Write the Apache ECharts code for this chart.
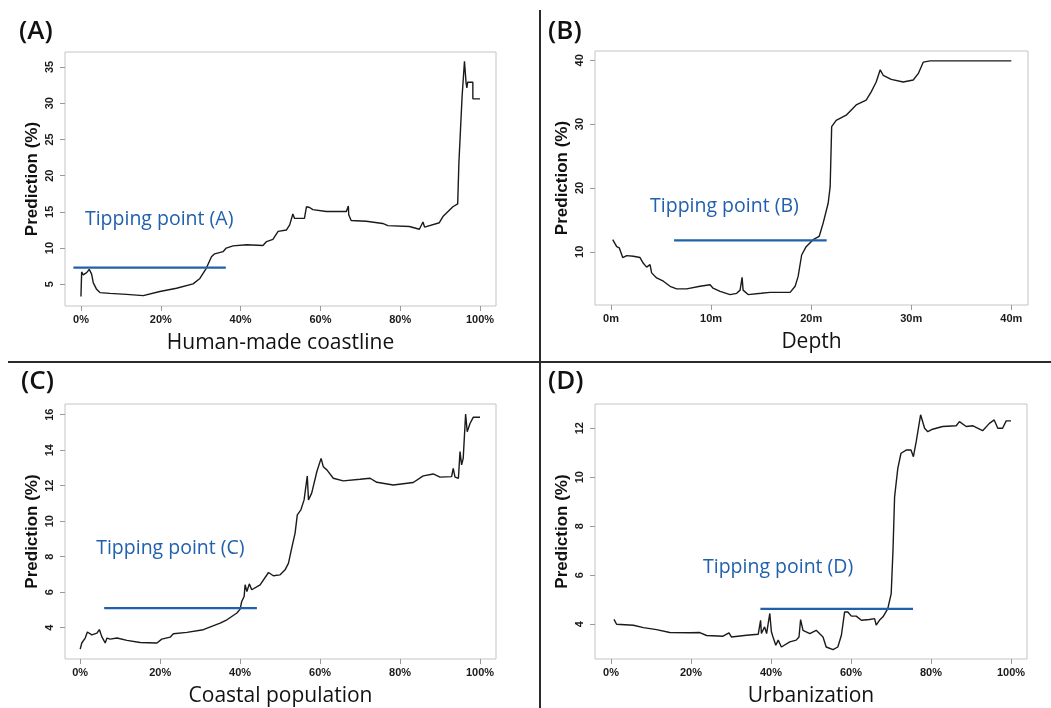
<!DOCTYPE html>
<html>
<head>
<meta charset="utf-8">
<script src="https://cdn.jsdelivr.net/npm/echarts@6.0.0/dist/echarts.min.js"></script>
<style>
html,body{margin:0;padding:0;background:#fff;}
#chart{width:1051px;height:708px;}
</style>
</head>
<body>
<div id="chart"></div>
<script>
// ---------- DATA ----------
// Panel A: Human-made coastline (%) vs Prediction (%)
const xA = [0,0.17,0.58,1.42,2.08,2.67,3.09,3.92,4.75,7.26,11.43,15.6,19.77,23.94,28.1,29.8,31.4,32.7,33.5,35.6,36.4,38.1,41.5,45.6,46.5,48.1,49.4,51.5,52.3,53.1,53.5,56.0,56.5,57.3,58.1,61.5,66.5,67.0,67.1,67.7,71.5,75.6,76.9,82.3,84.8,85.7,86.1,89.8,90.7,93.2,94.4,94.7,95.1,95.5,96.1,96.5,96.7,96.9,98.2,98.2,100];
const yA = [3.3,6.7,6.3,6.6,7.05,6.4,5.2,4.3,3.85,3.75,3.6,3.43,4.0,4.45,5.05,5.8,7.2,8.8,9.2,9.5,10.0,10.3,10.45,10.35,10.9,11.2,12.3,12.5,13.2,14.7,14.1,14.1,15.7,15.6,15.3,15.05,15.05,15.8,14.6,13.8,13.7,13.4,13.1,12.97,12.6,13.6,12.9,13.5,14.35,15.7,16.1,21.7,26.3,30.9,35.8,32.8,32.1,32.9,32.9,30.6,30.6];
// Panel B: Depth (m)
const xB = [0.17,0.57,0.83,0.97,1.17,1.57,2.23,2.9,3.23,3.56,3.9,4.06,4.56,5.23,5.9,6.56,7.56,8.9,9.9,10.2,10.9,11.9,12.56,12.9,13.1,13.2,13.7,15.0,15.9,17.9,18.4,18.7,19.05,19.5,20.2,20.8,21.2,21.7,21.9,22.05,22.5,23.5,24.5,25.5,26.0,26.5,26.9,27.2,28.0,29.2,30.2,30.7,31.2,31.9,40];
const yB = [11.9,10.8,10.6,10.8,9.1,9.4,9.3,9.1,8.2,7.6,8.0,6.7,5.9,5.4,4.6,4.2,4.2,4.6,4.85,4.3,3.8,3.3,3.5,4.0,6.0,4.0,3.3,3.5,3.65,3.65,4.6,6.15,9.5,10.8,11.9,12.4,14.5,17.6,20.2,29.6,30.6,31.4,33.0,33.75,35.05,36.6,38.5,37.65,37.0,36.6,36.9,37.9,39.7,39.9,39.9];
// Panel C: Coastal population (%)
const xC = [0,0.4,1.25,1.8,2.9,4.2,4.8,5.4,6.25,6.7,7.5,9.2,11.7,15,19.2,20.4,22.5,23.3,26.7,30.8,32.9,35,36.7,39.2,40,40.4,41,41.25,41.7,42.3,42.9,45,47.1,48.3,50,51.25,52.1,52.9,53.75,54.3,55.2,56,56.8,57.1,57.9,59.2,60.25,60.8,61.7,62.1,63.3,65.8,70,72.5,74.2,78.3,83.3,85.8,88.3,90,92.9,93.3,93.75,94.6,95,95.4,95.8,96.4,96.8,97.5,98.3,100];
const yC = [2.8,3.14,3.42,3.76,3.6,3.7,3.9,3.5,3.14,3.42,3.36,3.42,3.29,3.17,3.14,3.36,3.47,3.66,3.74,3.89,4.08,4.26,4.45,4.83,5.05,5.48,5.76,6.42,6.04,6.47,6.14,6.42,7.11,6.93,6.98,7.26,7.64,8.48,9.33,10.36,10.64,11.2,12.55,11.2,11.58,12.8,13.54,13.07,12.89,12.98,12.42,12.27,12.36,12.42,12.19,12.04,12.18,12.55,12.66,12.48,12.51,12.98,12.48,12.42,13.92,13.17,13.54,16.04,15.04,15.5,15.85,15.85];
// Panel D: Urbanization (%)
const xD = [0.75,1.4,5.6,8.1,11.4,14.7,19.7,22.2,23.9,28,29.5,30.1,33.9,36.8,37.4,37.6,38.4,38.9,39.7,40.1,40.5,41.2,41.8,42.6,44.7,46.3,47,47.4,48,49.7,51.3,53,53.8,55.5,56.7,57.6,58.4,59.2,60.1,61.3,62.6,64.6,65.9,66.3,67.1,68,69.2,70.05,70.5,70.9,71.7,72.5,73.8,75,75.6,76.3,77.4,78.4,79.2,80.4,82.9,86.3,87.1,88.8,90.5,92.9,94.6,95.8,96.7,97.9,98.8,100];
const yD = [4.2,4.0,3.96,3.86,3.78,3.66,3.65,3.66,3.54,3.51,3.65,3.48,3.55,3.59,4.16,3.62,3.89,3.62,4.44,3.69,3.48,3.14,3.35,3.07,3.28,3.35,3.48,4.19,3.75,3.62,3.75,3.48,3.07,2.96,3.07,3.55,4.5,4.5,4.33,4.33,4.16,4.19,4.23,3.96,4.16,4.3,4.64,5.25,7.03,9.2,10.36,10.98,11.11,11.11,10.84,11.45,12.55,12.0,11.86,11.96,12.07,12.1,12.27,12.07,12.1,11.9,12.2,12.34,12.0,12.0,12.3,12.3];

// Tipping point lines: [xStart, xEnd], level
const tipX = [[-1.9,36.3],[6.3,21.55],[6.0,44.2],[37.35,75.5]];
const tipY = [7.3,11.8,5.1,4.63];
// Tipping point text anchor (left, middle) in data units
const tipTextX = [1.0,3.9,4.0,23.0];
const tipTextY = [13.9,17.1,8.48,6.3];
const tipLabels = ['Tipping point (A)','Tipping point (B)','Tipping point (C)','Tipping point (D)'];

// Axis ticks
const xTicksPct = [0,20,40,60,80,100];
const xTicksDepth = [0,10,20,30,40];
const yTicksA = [5,10,15,20,25,30,35];
const yTicksB = [10,20,30,40];
const yTicksC = [4,6,8,10,12,14,16];
const yTicksD = [4,6,8,10,12];

const panelLetters = ['(A)','(B)','(C)','(D)'];
const xTitles = ['Human-made coastline','Depth','Coastal population','Urbanization'];
const yTitle = 'Prediction (%)';

// ---------- LAYOUT ----------
const grids = [
  {left:65, top:52, width:431, height:254},
  {left:595, top:51, width:433, height:254},
  {left:65, top:404, width:431, height:255},
  {left:595, top:404, width:432, height:255}
];
const xRanges = [[-4,104],[-1.6,41.67],[-3.8,104],[-4,104]];
const yRanges = [[2.0,37.07],[1.67,41.45],[2.24,16.6],[2.58,12.99]];
const xTickSets = [xTicksPct, xTicksDepth, xTicksPct, xTicksPct];
const xFmts = [v=>v+'%', v=>v+'m', v=>v+'%', v=>v+'%'];
const yTickSets = [yTicksA, yTicksB, yTicksC, yTicksD];
const letterPos = [[14,14],[543,14],[16,364],[543,364]];

const curvesX = [xA,xB,xC,xD];
const curvesY = [yA,yB,yC,yD];

const tickFont = {fontFamily:'Liberation Sans, Arial, sans-serif', fontWeight:'bold', fontSize:11, color:'#1a1a1a'};
const tipColor = '#2160ad';

const option = {
  backgroundColor:'#fff',
  animation:false,
  title: panelLetters.map((t,i)=>({
    text:t, left:letterPos[i][0], top:letterPos[i][1],
    textStyle:{fontFamily:'Open Sans, sans-serif', fontSize:26, fontWeight:600, color:'#111'}
  })),
  grid: grids.map(g=>Object.assign({show:true, borderColor:'#c4c4c4', borderWidth:1, backgroundColor:'transparent'}, g)),
  xAxis: grids.map((g,i)=>({
    type:'value', gridIndex:i, min:xRanges[i][0], max:xRanges[i][1], position:'bottom',
    axisLine:{show:false, onZero:false},
    splitLine:{show:false},
    axisTick:{show:true, length:5, lineStyle:{color:'#9a9a9a'}, customValues:xTickSets[i]},
    axisLabel:Object.assign({show:true, margin:8, customValues:xTickSets[i], formatter:xFmts[i]}, tickFont),
    name:xTitles[i], nameLocation:'middle', nameGap:27,
    nameTextStyle:{fontFamily:'Open Sans, sans-serif', fontSize:21, color:'#111'}
  })),
  yAxis: grids.map((g,i)=>({
    type:'value', gridIndex:i, min:yRanges[i][0], max:yRanges[i][1], position:'left',
    axisLine:{show:false, onZero:false},
    splitLine:{show:false},
    axisTick:{show:true, length:5, lineStyle:{color:'#9a9a9a'}, customValues:yTickSets[i]},
    axisLabel:Object.assign({show:true, margin:10, rotate:90, customValues:yTickSets[i]}, tickFont),
    name:yTitle, nameLocation:'middle', nameGap:24,
    nameTextStyle:{fontFamily:'Liberation Sans, Arial, sans-serif', fontWeight:'bold', fontSize:17, color:'#111'}
  })),
  series: [],
  graphic: [
    {type:'line', shape:{x1:540, y1:10, x2:540, y2:708}, style:{stroke:'#2b2b2b', lineWidth:2}},
    {type:'line', shape:{x1:8, y1:362, x2:1051, y2:362}, style:{stroke:'#2b2b2b', lineWidth:2}}
  ]
};

for (let i=0;i<4;i++){
  const xs = curvesX[i], ys = curvesY[i];
  const n = Math.min(xs.length, ys.length);
  const data = [];
  for (let k=0;k<n;k++) data.push([xs[k], ys[k]]);
  option.series.push({
    type:'line', xAxisIndex:i, yAxisIndex:i, data:data, showSymbol:false, symbol:'none',
    lineStyle:{color:'#1a1a1a', width:1.4}, silent:true, z:3
  });
  option.series.push({
    type:'line', xAxisIndex:i, yAxisIndex:i,
    data:[[tipX[i][0], tipY[i]],[tipX[i][1], tipY[i]]],
    showSymbol:false, symbol:'none', lineStyle:{color:tipColor, width:2.2}, silent:true, z:4
  });
}

const chart = echarts.init(document.getElementById('chart'), null, {renderer:'canvas'});
chart.setOption(option);

// Tipping point captions, placed at data coordinates through each grid's scales
const texts = [];
for (let i=0;i<4;i++){
  const p = chart.convertToPixel({gridIndex:i}, [tipTextX[i], tipTextY[i]]);
  texts.push({
    type:'text', x:p[0], y:p[1], z:10,
    style:{text:tipLabels[i], fill:tipColor, font:'19.5px "Open Sans", sans-serif',
      textAlign:'left', textVerticalAlign:'middle'}
  });
}
chart.setOption({graphic: option.graphic.concat(texts)});
</script>
</body>
</html>
